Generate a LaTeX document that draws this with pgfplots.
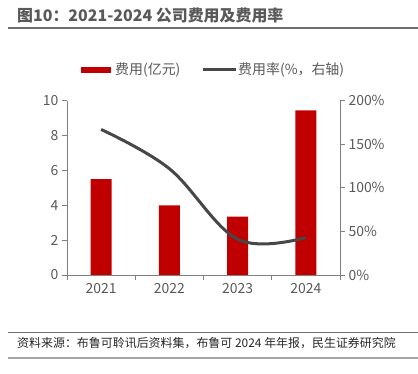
\documentclass[border=0pt]{standalone}
\usepackage{pgfplots}
\pgfplotsset{compat=1.18}
\usepackage{fontspec}
\setmainfont{Noto Sans CJK SC}
\definecolor{barred}{HTML}{C00000}
\definecolor{linegray}{HTML}{474747}
\definecolor{txtgray}{HTML}{595959}
\definecolor{axgray}{HTML}{808080}
\definecolor{rulegray}{HTML}{6E6E6E}
\begin{document}
\begin{tikzpicture}[x=1bp,y=1bp]
\path[use as bounding box] (0,0) rectangle (418,374);
\node[anchor=west, font=\fontsize{16}{18}\selectfont\bfseries, text=txtgray, inner sep=0] at (17,359) {图10：2021-2024 公司费用及费用率};
\draw[rulegray, line width=1.5bp] (8,346) -- (418,346);
% legend
\fill[barred] (81,300.7) rectangle (111,307.3);
\node[anchor=west, font=\fontsize{14}{16}\selectfont, text=txtgray, inner sep=0] at (115,304) {费用(亿元)};
\draw[linegray, line width=3bp] (203,304) -- (236,304);
\node[anchor=west, font=\fontsize{14}{16}\selectfont, text=txtgray, inner sep=0] at (238,304) {费用率(\%，右轴)};
% source
\draw[rulegray, line width=0.8bp] (8,42) -- (418,42);
\node[anchor=west, font=\fontsize{12}{14}\selectfont, text=black!85, inner sep=0] at (17,30.5) {资料来源：布鲁可聆讯后资料集，布鲁可 2024 年年报，民生证券研究院};
\draw[gray!70, line width=1.8bp] (8,16) -- (418,16);
\begin{axis}[
  at={(67bp,99bp)}, anchor=south west, scale only axis,
  width=273bp, height=174.3bp,
  xmin=-0.5, xmax=3.5, ymin=0, ymax=10,
  ytick={0,2,...,10},
  xtick={0,1,2,3}, xticklabels={2021,2022,2023,2024},
  major x tick style={draw=none},
  extra x ticks={-0.5,0.5,1.5,2.5,3.5}, extra x tick labels={},
  extra x tick style={major x tick style={draw=axgray}},
  axis x line*=bottom, axis y line*=left,
  axis line style={draw=axgray, line width=0.8bp},
  tick style={draw=axgray, line width=0.8bp},
  tick align=outside, major tick length=5bp,
  ticklabel style={font=\fontsize{14}{16}\selectfont, text=txtgray},
  /pgf/number format/assume math mode=true,
  ymajorgrids=false,
]
\addplot[ybar, bar width=21bp, fill=barred, draw=none] coordinates {(0,5.5) (1,4.0) (2,3.35) (3,9.45)};
\end{axis}
\begin{axis}[
  at={(67bp,99bp)}, anchor=south west, scale only axis,
  width=273bp, height=174.3bp,
  xmin=-0.5, xmax=3.5, ymin=0, ymax=200,
  ytick={0,50,...,200},
  yticklabel={\pgfmathprintnumber{\tick}\%},
  axis x line=none, axis y line*=right,
  axis line style={draw=axgray, line width=0.8bp},
  tick style={draw=axgray, line width=0.8bp},
  tick align=outside, major tick length=5bp,
  ticklabel style={font=\fontsize{14}{16}\selectfont, text=txtgray},
  /pgf/number format/assume math mode=true,
]
\addplot[smooth, tension=0.6, linegray, line width=3bp] coordinates {(0,167) (1,122) (2,41) (3,43)};
\end{axis}
\end{tikzpicture}
\end{document}
